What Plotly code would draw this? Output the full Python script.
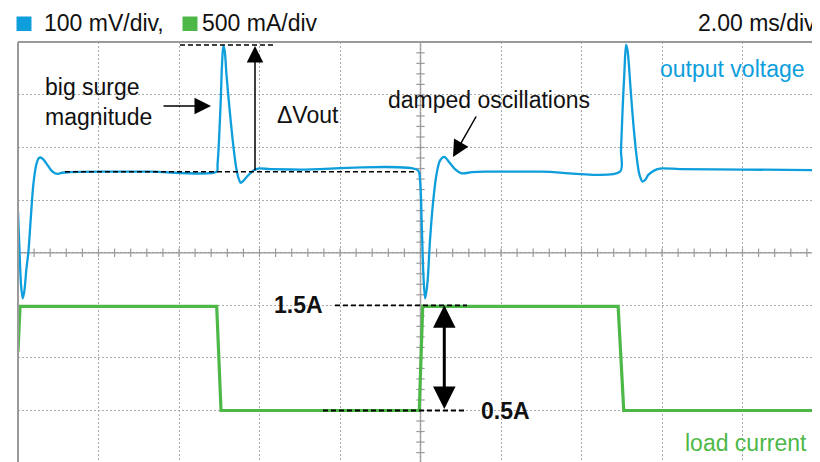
import plotly.graph_objects as go

# ---------------- data ----------------
# output voltage: time (ms) and deviation from nominal (mV)
t_vout = [0.000, 0.037, 0.075, 0.117, 0.161, 0.211, 0.256, 0.323, 0.380, 0.447, 0.509, 0.564,
          0.634, 0.720, 0.820, 0.919, 1.001, 1.093, 1.292, 2.04, 3.28, 4.937,
          4.957, 4.994, 5.037, 5.068, 5.101, 5.138, 5.180, 5.250, 5.334, 5.416, 5.478, 5.533,
          5.602, 5.682, 5.846, 5.970, 6.261, 7.006, 9.930,
          9.988, 10.030, 10.070, 10.112, 10.144, 10.179, 10.236, 10.318, 10.402, 10.484, 10.591,
          10.733, 10.857, 11.023, 11.272, 11.602, 13.0, 14.957,
          14.981, 15.024, 15.068, 15.106, 15.143, 15.222, 15.287, 15.371, 15.441, 15.520, 15.590,
          15.659, 15.826, 15.950, 16.447, 18.0, 19.93]
vout_dev_mv = [-76, -149, -215, -241, -225, -183, -155, -82, -25, 11, 25, 27,
               23, 14, 3, -3, -4, -2, -1, 0, 0, 0,
               13, 60, 136, 203, 239, 228, 184, 124, 60, 10, -12, -21,
               -17, -10, 2, 6, 5, 4, 3,
               -16, -98, -193, -241, -229, -206, -130, -54, -3, 21, 28,
               16, 5, -3, -1, 0, 0, 0,
               41, 124, 193, 241, 231, 155, 92, 28, -6, -19, -15,
               -6, 3, 6, 5, 4, 3]

# load current: time (ms) and current (A)
t_load = [0.0, 0.05, 4.937, 5.044, 9.97, 10.055, 14.91, 15.05, 19.93]
i_load_a = [1.06, 1.49, 1.49, 0.50, 0.50, 1.49, 1.49, 0.50, 0.50]

# scope settings
MV_PER_DIV = 100
A_PER_DIV = 0.5
MS_PER_DIV = 2.0
VOUT_POS_MV = 154      # nominal output level, mV above centre graticule
I_ZERO_DIV = -4        # 0 A sits on the bottom graticule line

legend_labels = ["100 mV/div,", "500 mA/div"]
timebase_label = "2.00 ms/div"
current_levels = [1.5, 0.5]
current_level_labels = ["1.5A", "0.5A"]

# ---------------- styling ----------------
BLUE = "#0e9edc"
GREEN = "#4db848"
GRID = "#ababab"
AXIS = "#9a9a9a"
FONT = "Liberation Sans, Arial, Helvetica, sans-serif"
FS = 23

OFF = 8                       # page body margin
PW, PH = 820, 462             # browser window
W, H = PW - OFF, PH - OFF     # figure size
L, T = 18, 42                 # plot-area origin in page pixels
PX_PER_MS = 80.5 / MS_PER_DIV
PX_PER_DIV = 52.6
CY = 252.7
X_MAX = (PW - L) / PX_PER_MS
Y_TOP = (CY - T) / PX_PER_DIV
Y_BOT = Y_TOP - (PH - T) / PX_PER_DIV


def xd(px):
    return (px - L) / PX_PER_MS


def yd(py):
    return (CY - py) / PX_PER_DIV


def vdiv(mv):
    return (mv + VOUT_POS_MV) / MV_PER_DIV


def idiv(a):
    return a / A_PER_DIV + I_ZERO_DIV


def px_paper(px):
    return (px - L) / (PW - L)


def py_paper(py):
    return (PH - py) / (PH - T)


fig = go.Figure()

# graticule minor ticks on the centre lines
tick_x = [i * MS_PER_DIV / 5 for i in range(51)]
tick_y = [-4 + i * 0.2 for i in range(41)]
fig.add_trace(go.Scatter(x=tick_x, y=[0] * len(tick_x), mode="markers",
                         marker=dict(symbol="line-ns", size=6, line=dict(color=AXIS, width=1.2)),
                         hoverinfo="skip", showlegend=False))
fig.add_trace(go.Scatter(x=[5 * MS_PER_DIV] * len(tick_y), y=tick_y, mode="markers",
                         marker=dict(symbol="line-ew", size=6, line=dict(color=AXIS, width=1.2)),
                         hoverinfo="skip", showlegend=False))

# traces
fig.add_trace(go.Scatter(x=t_load, y=[idiv(a) for a in i_load_a], mode="lines",
                         line=dict(color=GREEN, width=3.2), showlegend=False, name="load current"))
fig.add_trace(go.Scatter(x=t_vout, y=[vdiv(v) for v in vout_dev_mv], mode="lines",
                         line=dict(color=BLUE, width=2.3, shape="spline", smoothing=0.8),
                         showlegend=False, name="output voltage"))

shapes = []
# centre lines
shapes.append(dict(type="line", xref="x", yref="paper", x0=5 * MS_PER_DIV, x1=5 * MS_PER_DIV,
                   y0=0, y1=1, line=dict(color=AXIS, width=1.5), layer="between"))
shapes.append(dict(type="line", xref="paper", yref="y", x0=0, x1=1, y0=0, y1=0,
                   line=dict(color=AXIS, width=1.5), layer="between"))
# border (left and top)
shapes.append(dict(type="line", xref="paper", yref="paper", x0=0, x1=0, y0=0, y1=1,
                   line=dict(color=AXIS, width=2)))
shapes.append(dict(type="line", xref="paper", yref="paper", x0=0, x1=1.01, y0=1, y1=1,
                   line=dict(color=AXIS, width=2)))

DASH = "5px,3px"
v_peak = max(vout_dev_mv)
# peak level and steady level dashed lines
shapes.append(dict(type="line", xref="x", yref="y", x0=xd(180), x1=xd(273),
                   y0=vdiv(v_peak), y1=vdiv(v_peak), line=dict(color="black", width=1.6, dash=DASH)))
shapes.append(dict(type="line", xref="x", yref="y", x0=xd(65), x1=xd(417),
                   y0=vdiv(0), y1=vdiv(0), line=dict(color="black", width=1.6, dash=DASH)))
# current level dashed lines
shapes.append(dict(type="line", xref="x", yref="y", x0=xd(335), x1=xd(467),
                   y0=idiv(current_levels[0]), y1=idiv(current_levels[0]),
                   line=dict(color="black", width=1.8, dash=DASH)))
shapes.append(dict(type="line", xref="x", yref="y", x0=xd(323), x1=xd(467),
                   y0=idiv(current_levels[1]), y1=idiv(current_levels[1]),
                   line=dict(color="black", width=1.8, dash=DASH)))

# legend squares
for (x0, col) in [(16.5, BLUE), (182.5, GREEN)]:
    shapes.append(dict(type="rect", xref="paper", yref="paper",
                       x0=px_paper(x0), x1=px_paper(x0 + 15), y0=py_paper(16.5), y1=py_paper(31),
                       fillcolor=col, line=dict(width=0)))

ann = []


def text(px, py, s, color="#111111", anchor="left", size=FS, bold=False):
    ann.append(dict(xref="paper", yref="paper", x=px_paper(px), y=py_paper(py), text=s,
                    showarrow=False, xanchor=anchor, yanchor="middle",
                    font=dict(family=FONT, size=size, color=color,
                              weight="bold" if bold else "normal")))


text(42, 23.5, legend_labels[0])
text(200, 23.5, legend_labels[1])
text(818, 23.5, timebase_label, anchor="right")
text(658, 68.5, "output voltage", color=BLUE)
text(683, 442.5, "load current", color=GREEN)
ann.append(dict(xref="paper", yref="paper", x=px_paper(43), y=py_paper(101.5),
                text="big surge<br>magnitude", showarrow=False, xanchor="left", yanchor="middle",
                align="left", font=dict(family=FONT, size=FS, color="#111111")))
text(275, 114.5, "ΔVout")
text(386, 100, "damped oscillations")
text(272, 305, current_level_labels[0], bold=True, size=FS)
text(479, 410.5, current_level_labels[1], bold=True, size=FS)

# arrows


def arrow(hx, hy, tx, ty, width=1.5, size=1.6, both=False):
    ann.append(dict(xref="x", yref="y", axref="x", ayref="y", x=hx, y=hy, ax=tx, ay=ty,
                    text="", showarrow=True, arrowhead=2, arrowsize=size, arrowwidth=width,
                    arrowcolor="black", arrowside="end+start" if both else "end",
                    startarrowhead=2, startarrowsize=size))


arrow(xd(211), yd(106), xd(162), yd(106), size=2.2)
arrow(xd(255), vdiv(v_peak) - 0.02, xd(255), vdiv(0), size=2.2)
arrow(xd(453), yd(157), xd(477), yd(115), size=2.2)
arrow(xd(444.3), idiv(current_levels[0]), xd(444.3), idiv(current_levels[1]),
      width=3, size=1.5, both=True)

fig.update_layout(
    width=W, height=H,
    margin=dict(l=L - OFF, r=0, t=T - OFF, b=0),
    paper_bgcolor="white", plot_bgcolor="white",
    shapes=shapes, annotations=ann, showlegend=False,
    xaxis=dict(range=[0, X_MAX], tick0=0, dtick=MS_PER_DIV, showgrid=True, gridcolor=GRID,
               griddash="2px,2px", gridwidth=1.2, showticklabels=False, zeroline=False,
               showline=False, ticks="", fixedrange=True),
    yaxis=dict(range=[Y_BOT, Y_TOP], tick0=0, dtick=1, showgrid=True, gridcolor=GRID,
               griddash="2px,2px", gridwidth=1.2, showticklabels=False, zeroline=False,
               showline=False, ticks="", fixedrange=True),
)

fig.write_html("out.html")
